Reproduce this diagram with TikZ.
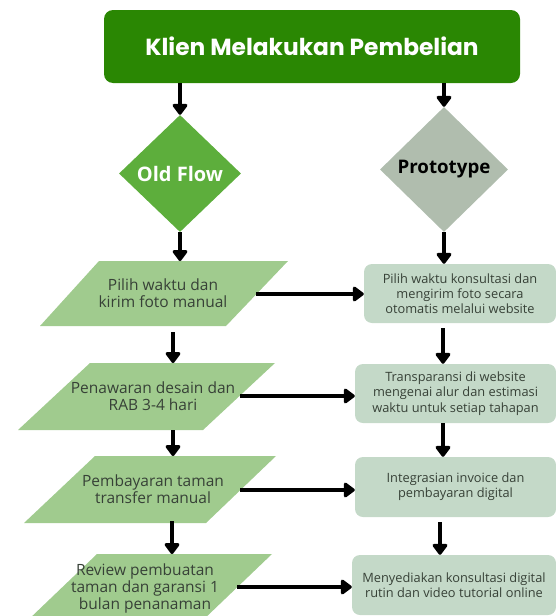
\documentclass[tikz,border=0pt]{standalone}
\usepackage{fontspec}
\setmainfont{Open Sans}
\newfontfamily\poppins{Poppins}
\usetikzlibrary{shapes.geometric,arrows.meta}
\definecolor{titlegreen}{RGB}{42,135,3}
\definecolor{oldgreen}{RGB}{93,174,60}
\definecolor{protogray}{RGB}{176,189,174}
\definecolor{paragreen}{RGB}{160,203,142}
\definecolor{boxsage}{RGB}{196,217,200}
\definecolor{txtdark}{RGB}{55,65,55}
\tikzset{
  arr/.style={line width=3.3pt,-{Triangle[width=17pt,length=12pt,round]}},
  parafill/.style={fill=paragreen},
  paratext/.style={align=center,text=txtdark,font=\fontsize{15.5}{17}\selectfont,inner sep=0pt},
  sagebox/.style={fill=boxsage,rounded corners=8pt,align=center,text=txtdark,
    font=\fontsize{12.8}{15.2}\selectfont,inner sep=0pt},
}
\begin{document}
\begin{tikzpicture}[x=1pt,y=-1pt]
\useasboundingbox (0,0) rectangle (556,616);
% title
\node[fill=titlegreen,rounded corners=9pt,minimum width=416pt,minimum height=73pt,
  text=white,font=\poppins\bfseries\fontsize{23.3}{26}\selectfont] (title) at (312,46.5) {Klien Melakukan Pembelian};
% diamonds
\node[diamond,fill=oldgreen,inner sep=0pt,minimum width=122pt,minimum height=117pt,
  text=white,font=\bfseries\fontsize{20}{22}\selectfont] (old) at (180,173.5) {Old Flow};
\node[diamond,fill=protogray,inner sep=0pt,minimum width=128pt,minimum height=125pt,
  text=black,font=\bfseries\fontsize{18.7}{21}\selectfont] (proto) at (444,169.5) {Prototype};
% parallelograms
\path[parafill] (40,326) -- (226,326) -- (288,261) -- (99,261) -- cycle;
\node[paratext] (p1) at (163,293) {Pilih waktu dan\\kirim foto manual};
\path[parafill] (18,430) -- (203,430) -- (275,363) -- (90,363) -- cycle;
\node[paratext] (p2) at (153,396) {Penawaran desain dan\\RAB 3-4 hari};
\path[parafill] (24,523) -- (206,523) -- (276,456) -- (95,456) -- cycle;
\node[paratext] (p3) at (153,489) {Pembayaran taman\\transfer manual};
\path[parafill] (27,621) -- (202,621) -- (272,554) -- (97,554) -- cycle;
\node[paratext] (p4) at (145,588) {Review pembuatan\\taman dan garansi 1\\bulan penanaman};
% connector end points on parallelograms
\coordinate (p1t) at (180,261);
\coordinate (p1b) at (173,332);
\coordinate (p2t) at (173,363);
\coordinate (p2b) at (173,430);
\coordinate (p3t) at (173,456);
\coordinate (p3b) at (172,521);
\coordinate (p4t) at (172,554);
\coordinate (p1r) at (256,294);
\coordinate (p2r) at (240,396);
\coordinate (p3r) at (240,490);
\coordinate (p4r) at (237,587);
% right boxes
\node[sagebox,minimum width=192pt,minimum height=59pt] (b1) at (460,293.5) {Pilih waktu konsultasi dan\\mengirim foto secara\\otomatis melalui website};
\node[sagebox,minimum width=201pt,minimum height=59pt] (b2) at (455.5,393.5) {Transparansi di website\\mengenai alur dan estimasi\\waktu untuk setiap tahapan};
\node[sagebox,minimum width=201pt,minimum height=60pt] (b3) at (455.5,487) {Integrasian invoice dan\\pembayaran digital};
\node[sagebox,minimum width=204pt,minimum height=60pt] (b4) at (454,585) {Menyediakan konsultasi digital\\rutin dan video tutorial online};
% arrows
\draw[arr] (title.south -| old) -- (old.north);
\draw[arr] (title.south -| proto) -- (proto.north);
\draw[arr] (old.south) -- (p1t);
\draw[arr] (proto.south) -- (proto.south |- b1.north);
\draw[arr] (p1b) -- (p2t);
\draw[arr] (p2b) -- (p3t);
\draw[arr] (p3b) -- (p4t);
\coordinate (rx1) at (443,0);
\coordinate (rx2) at (440,0);
\draw[arr] ([yshift=-5pt]b1.south -| rx1) -- (b2.north -| rx1);
\draw[arr] (b2.south -| rx1) -- (b3.north -| rx1);
\draw[arr] ([yshift=-5pt]b3.south -| rx2) -- (b4.north -| rx2);
\draw[arr] (p1r) -- (p1r -| b1.west);
\draw[arr] (p2r) -- (p2r -| b2.west);
\draw[arr] (p3r) -- (p3r -| b3.west);
\draw[arr] (p4r) -- (p4r -| b4.west);
\end{tikzpicture}
\end{document}
